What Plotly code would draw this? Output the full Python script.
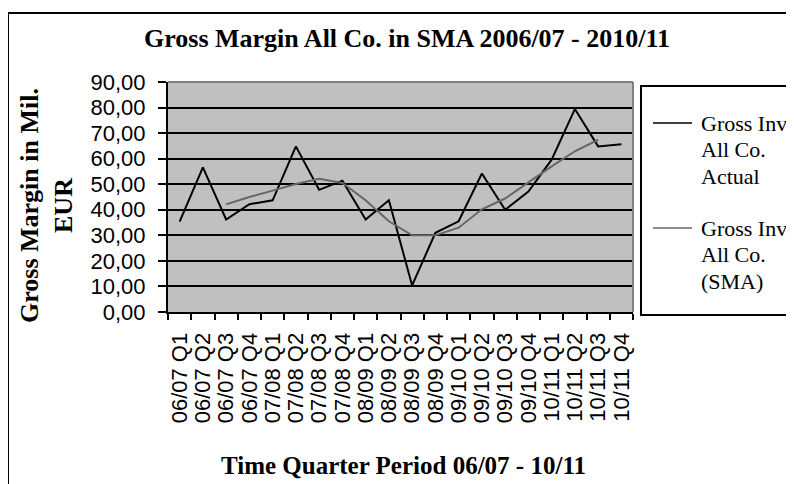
import plotly.graph_objects as go

categories = ["06/07 Q1", "06/07 Q2", "06/07 Q3", "06/07 Q4",
              "07/08 Q1", "07/08 Q2", "07/08 Q3", "07/08 Q4",
              "08/09 Q1", "08/09 Q2", "08/09 Q3", "08/09 Q4",
              "09/10 Q1", "09/10 Q2", "09/10 Q3", "09/10 Q4",
              "10/11 Q1", "10/11 Q2", "10/11 Q3", "10/11 Q4"]
actual = [35.4, 56.6, 36.2, 42.2, 43.7, 64.8, 47.8, 51.4, 36.2, 43.7,
          10.4, 31.0, 35.5, 54.2, 40.0, 47.1, 59.6, 79.4, 64.8, 65.6]
sma = [None, None, 42.1, 45.0, 47.5, 50.1, 52.1, 50.5, 43.7, 35.5,
       30.0, 30.0, 33.0, 40.2, 44.4, 50.8, 57.0, 62.9, 67.4, None]
y_ticks = [0, 10, 20, 30, 40, 50, 60, 70, 80, 90]
series_names = [["Gross Inv", "All Co.", "Actual"], ["Gross Inv", "All Co.", "(SMA)"]]
series_colors = ["#000000", "#666666"]

title = "Gross Margin All Co. in SMA 2006/07 - 2010/11"
x_title = "Time Quarter Period 06/07 - 10/11"
y_title = "Gross Margin in Mil.<br>EUR"

# page is offset by the browser's default 8px body margin
OFF = 8
W, H = 794 - OFF, 484 - OFF
# plot area in page pixels
L, R, T, B = 168, 633, 82, 312

def px(x):
    return (x - L) / (R - L)

def py(y):
    return (B - y) / (B - T)

serif = "Liberation Serif, Times New Roman, serif"
sans = "Liberation Sans, Arial, sans-serif"

fig = go.Figure()
for vals, names, col in zip([actual, sma], series_names, series_colors):
    fig.add_trace(go.Scatter(x=categories, y=vals, mode="lines",
                             line=dict(color=col, width=2),
                             name=" ".join(names), showlegend=False,
                             connectgaps=False))

shapes = []
annotations = []

# outer chart border
shapes.append(dict(type="rect", xref="paper", yref="paper",
                   x0=px(8), x1=px(810), y0=py(13), y1=py(500),
                   line=dict(color="#000000", width=2), layer="below"))
# plot border top/right (gray)
shapes.append(dict(type="line", xref="paper", yref="paper",
                   x0=0, x1=1, y0=1, y1=1,
                   line=dict(color="#808080", width=2), layer="above"))
shapes.append(dict(type="line", xref="paper", yref="paper",
                   x0=1, x1=1, y0=0, y1=1,
                   line=dict(color="#808080", width=2), layer="above"))

# legend box
shapes.append(dict(type="rect", xref="paper", yref="paper",
                   x0=px(641), x1=px(820), y0=py(86), y1=py(315),
                   line=dict(color="#000000", width=2), fillcolor="white",
                   layer="below"))
leg_top = [123, 228]
line_gap = 26.5
for k, (names, col) in enumerate(zip(series_names, series_colors)):
    yc = leg_top[k]
    shapes.append(dict(type="line", xref="paper", yref="paper",
                       x0=px(653), x1=px(692), y0=py(yc), y1=py(yc),
                       line=dict(color=col, width=1.5)))
    for j, t in enumerate(names):
        annotations.append(dict(text=t, xref="paper", yref="paper",
                                x=px(699), y=py(yc + j * line_gap),
                                xanchor="left", yanchor="middle",
                                showarrow=False,
                                font=dict(family=serif, size=22, color="#000")))

annotations.append(dict(text="<b>" + title + "</b>", xref="paper", yref="paper",
                        x=px(407), y=py(39), xanchor="center", yanchor="middle",
                        showarrow=False,
                        font=dict(family=serif, size=26, color="#000")))
annotations.append(dict(text="<b>" + x_title + "</b>", xref="paper", yref="paper",
                        x=px(403), y=py(465), xanchor="center", yanchor="middle",
                        showarrow=False,
                        font=dict(family=serif, size=25, color="#000")))
annotations.append(dict(text="<b>" + y_title + "</b>", xref="paper", yref="paper",
                        x=px(46), y=py(205), xanchor="center", yanchor="middle",
                        showarrow=False, textangle=-90,
                        font=dict(family=serif, size=26, color="#000")))

fig.update_layout(
    width=W, height=H,
    margin=dict(l=L - OFF, r=W - (R - OFF), t=T - OFF, b=H - (B - OFF), pad=0),
    paper_bgcolor="white", plot_bgcolor="#C0C0C0",
    separators=",.",
    showlegend=False,
    shapes=shapes, annotations=annotations,
    xaxis=dict(type="category", categoryorder="array", categoryarray=categories,
               range=[-0.5, len(categories) - 0.5],
               tickmode="array", tickvals=categories, ticktext=categories,
               tickson="boundaries", ticks="outside", ticklen=6,
               tickcolor="#000", tickwidth=1.5,
               tickangle=-90, ticklabelstandoff=10,
               tickfont=dict(family=sans, size=22, color="#000"),
               showline=True, linecolor="#000", linewidth=2,
               showgrid=False, zeroline=False, fixedrange=True),
    yaxis=dict(range=[0, 90], tickvals=y_ticks, tickformat=".2f",
               ticks="outside", ticklen=8, tickcolor="#000", tickwidth=1.5,
               ticklabelstandoff=8,
               tickfont=dict(family=sans, size=22, color="#000"),
               showline=True, linecolor="#000", linewidth=2,
               showgrid=True, gridcolor="#000", gridwidth=1.5,
               zeroline=False, fixedrange=True),
)

fig.write_html("out.html", config={"displayModeBar": False})
